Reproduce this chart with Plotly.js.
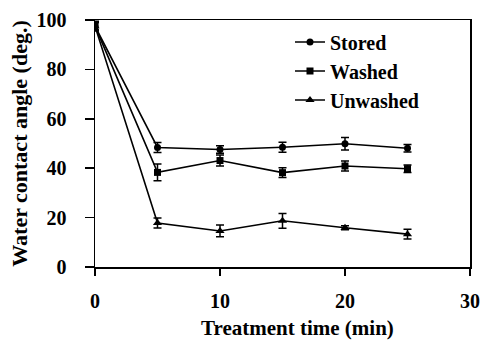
<!DOCTYPE html>
<html><head><meta charset="utf-8">
<script src="https://cdn.plot.ly/plotly-3.0.1.min.js"></script>
<style>body{margin:0;background:#fff}#c{width:482px;height:340px}</style>
</head><body><div id="c"></div>
<script>
var time = [0, 5, 10, 15, 20, 25];
var stored = [97.5, 48.4, 47.6, 48.5, 49.9, 48.1];
var storedErr = [1.5, 2, 1.5, 2, 2.5, 1.5];
var washed = [97.5, 38.3, 43.1, 38.2, 40.9, 39.8];
var washedErr = [2, 3.4, 2.2, 2, 2, 1.5];
var unwashed = [97.5, 17.8, 14.6, 18.7, 15.9, 13.3];
var unwashedErr = [1.5, 2, 2.4, 3, 0.8, 2];
var xTicks = [0, 10, 20, 30];
var yTicks = [0, 20, 40, 60, 80, 100];

function tr(name, y, e, sym, size, grp){
  return {x: time, y: y, name: name, type: 'scatter', mode: 'lines+markers',
    legendgroup: grp,
    line: {color: '#000', width: 1.6},
    marker: {symbol: sym, size: size, color: '#000'},
    error_y: {type: 'data', array: e, visible: true, color: '#000', thickness: 1.5, width: 4}};
}
var data = [
  tr('Stored', stored, storedErr, 'circle', 7, 'a'),
  tr('Washed', washed, washedErr, 'square', 7, 'b'),
  tr('Unwashed', unwashed, unwashedErr, 'triangle-up', 8, 'c')
];
var fam = 'Liberation Serif, Times New Roman, serif';
var layout = {
  width: 482, height: 340,
  margin: {l: 95, r: 12, t: 20, b: 73},
  paper_bgcolor: '#fff', plot_bgcolor: '#fff',
  showlegend: true,
  legend: {x: 0.52, y: 0.99, xanchor: 'left', yanchor: 'top', bgcolor: 'rgba(0,0,0,0)',
    tracegroupgap: 0, itemwidth: 30,
    font: {family: fam, size: 20, color: '#000', weight: 'bold'}},
  xaxis: {range: [0, 30], tickvals: xTicks, ticktext: xTicks.map(String),
    showgrid: false, zeroline: false, showline: true, linecolor: '#000', linewidth: 1.5, mirror: true,
    ticks: 'outside', ticklen: 7, tickwidth: 1.5, tickcolor: '#000', ticklabelstandoff: 8,
    tickfont: {family: fam, size: 20, color: '#000', weight: 'bold'}},
  yaxis: {range: [0, 100], tickvals: yTicks, ticktext: yTicks.map(String),
    showgrid: false, zeroline: false, showline: true, linecolor: '#000', linewidth: 1.5, mirror: true,
    ticks: 'outside', ticklen: 9, tickwidth: 1.5, tickcolor: '#000', ticklabelstandoff: 14,
    tickfont: {family: fam, size: 20, color: '#000', weight: 'bold'},
    title: {text: 'Water contact angle (deg.)', standoff: 3,
      font: {family: fam, size: 22, color: '#000', weight: 'bold'}}},
  annotations: [{text: 'Treatment time (min)', xref: 'paper', yref: 'paper', x: 0.539, y: -0.248,
    xanchor: 'center', yanchor: 'middle', showarrow: false,
    font: {family: fam, size: 21, color: '#000', weight: 'bold'}}]
};
Plotly.newPlot('c', data, layout, {displayModeBar: false, staticPlot: true});
</script></body></html>
